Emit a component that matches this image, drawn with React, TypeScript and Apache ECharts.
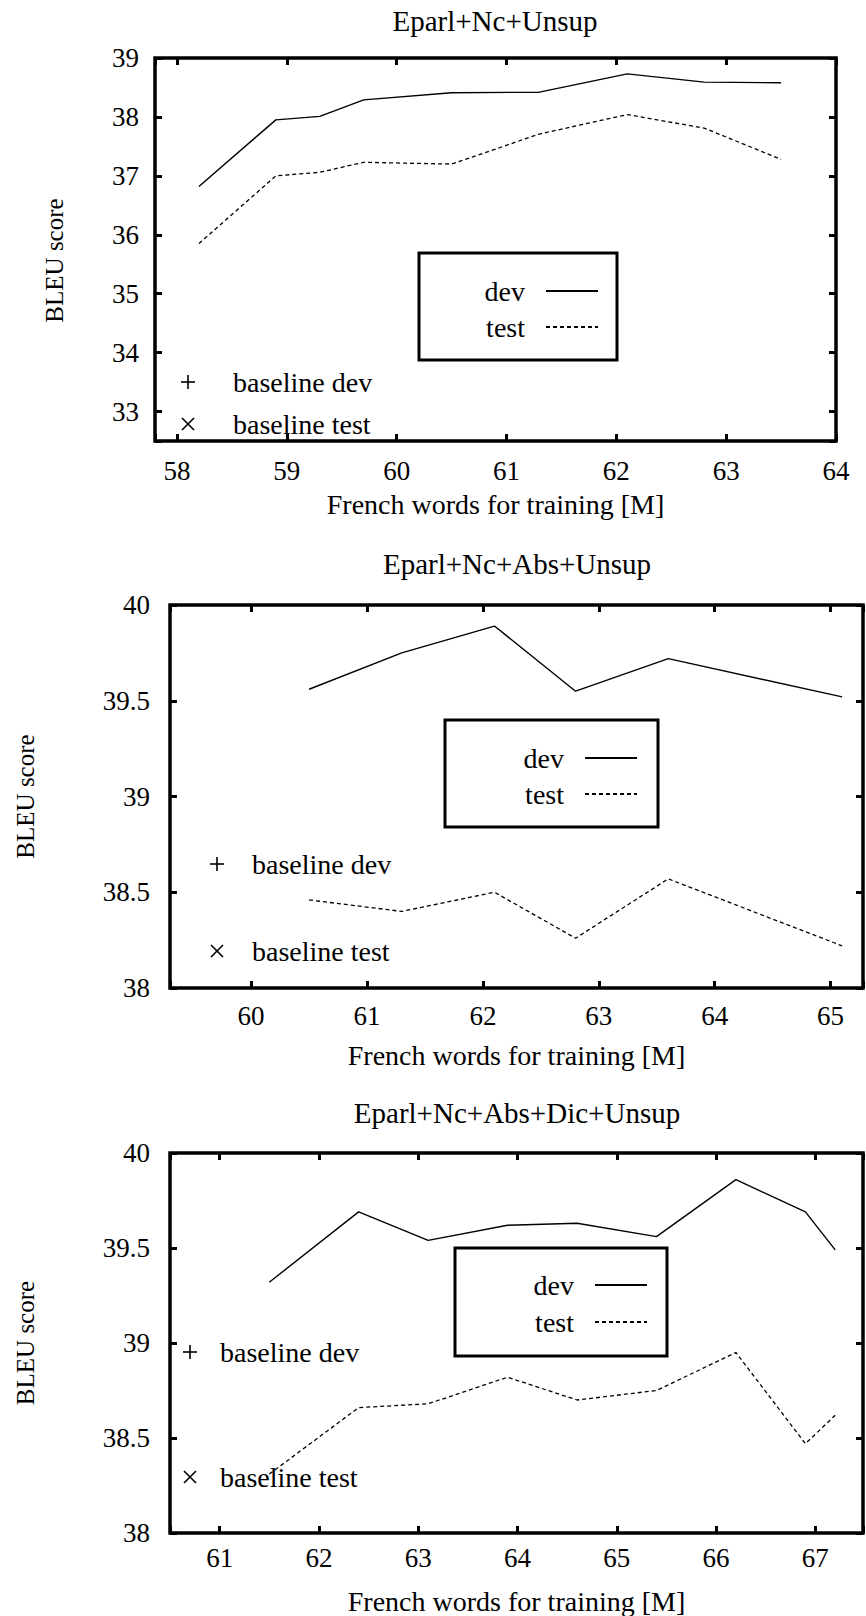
import React, { useEffect, useRef } from "react";
import * as echarts from "echarts";

// ---------- data ----------
const TITLES = ["Eparl+Nc+Unsup", "Eparl+Nc+Abs+Unsup", "Eparl+Nc+Abs+Dic+Unsup"];
const X_NAME = "French words for training [M]";
const Y_NAME = "BLEU score";
const SERIES_NAMES = ["dev", "test"];
const BASELINE_NAMES = ["baseline dev", "baseline test"];

const X1 = [58.2, 58.9, 59.3, 59.7, 60.5, 61.3, 62.1, 62.8, 63.5];
const DEV1 = [36.82, 37.95, 38.01, 38.29, 38.41, 38.42, 38.73, 38.59, 38.58];
const TEST1 = [35.85, 37.0, 37.06, 37.23, 37.2, 37.71, 38.04, 37.81, 37.28];

const X2 = [60.5, 61.3, 62.1, 62.8, 63.6, 65.1];
const DEV2 = [39.56, 39.75, 39.89, 39.55, 39.72, 39.52];
const TEST2 = [38.46, 38.4, 38.5, 38.26, 38.57, 38.22];

const X3 = [61.5, 62.4, 63.1, 63.9, 64.6, 65.4, 66.2, 66.9, 67.2];
const DEV3 = [39.32, 39.69, 39.54, 39.62, 39.63, 39.56, 39.86, 39.69, 39.49];
const TEST3 = [38.31, 38.66, 38.68, 38.82, 38.7, 38.75, 38.95, 38.47, 38.62];

// axis ranges
const X_RANGES = [[57.8, 64], [59.3, 65.28], [60.5, 67.48]];
const Y_RANGES = [[32.5, 39], [38, 40], [38, 40]];
const X_SPLITS = [6, 6, 7];
const Y_SPLITS = [7, 4, 4];
const Y_STEPS = [1, 0.5, 0.5];

// ---------- layout ----------
const FONT = "'Liberation Serif', 'Times New Roman', serif";
const GRIDS = [
  { left: 155, top: 58, width: 681, height: 383 },
  { left: 170, top: 605, width: 693, height: 383 },
  { left: 170, top: 1153, width: 694, height: 384 },
];
const TITLE_POS = [[495, 21], [517, 564], [517, 1113]];
const X_LABEL_MARGIN = [16, 14, 11];
const Y_LABEL_MARGIN = [16, 20, 20];
const X_NAME_GAP = [49, 53, 54];
const Y_NAME_GAP = [88, 132, 132];
const Y_NAME_PAD = [[0, 22, 0, 0], [0, 0, 0, 0], [0, 0, 0, 0]];
const KEY_BOX = [
  [419, 253, 198, 107],
  [445, 720, 213, 107],
  [455, 1248, 212, 108],
];
const KEY_LEGEND = [
  { right: 267, top: 277, gap: 8 },
  { right: 228, top: 744, gap: 8 },
  { right: 218, top: 1271, gap: 9 },
];
const BASE_KEYS = [
  { sx: 188, tx: 233, y: [382, 424] },
  { sx: 217, tx: 252, y: [864, 951] },
  { sx: 190, tx: 220, y: [1352, 1477] },
];

const DATA_X = [X1, X2, X3];
const DATA_DEV = [DEV1, DEV2, DEV3];
const DATA_TEST = [TEST1, TEST2, TEST3];

function stepFormatter(step: number) {
  return (v: number) => {
    const r = v / step;
    return Math.abs(r - Math.round(r)) < 1e-6 ? String(+v.toFixed(2)) : "";
  };
}

function buildOption() {
  const grid: any[] = [];
  const xAxis: any[] = [];
  const yAxis: any[] = [];
  const series: any[] = [];
  const legend: any[] = [];
  const graphic: any[] = [];

  const tick = { show: true, inside: true, length: 7, lineStyle: { color: "#000", width: 3 } };

  for (let i = 0; i < 3; i++) {
    grid.push({
      ...GRIDS[i],
      show: true,
      borderColor: "#000",
      borderWidth: 3.5,
      backgroundColor: "transparent",
      containLabel: false,
    });
    const [xmin, xmax] = X_RANGES[i];
    const [ymin, ymax] = Y_RANGES[i];
    xAxis.push({
      type: "value",
      gridIndex: i,
      position: "bottom",
      min: xmin,
      max: xmax,
      splitNumber: X_SPLITS[i],
      axisLine: { show: false },
      axisTick: tick,
      splitLine: { show: false },
      axisLabel: {
        color: "#000",
        fontSize: 27,
        fontFamily: FONT,
        margin: X_LABEL_MARGIN[i],
        formatter: stepFormatter(1),
      },
      name: X_NAME,
      nameLocation: "middle",
      nameGap: X_NAME_GAP[i],
      nameTextStyle: { color: "#000", fontSize: 28, fontFamily: FONT, verticalAlign: "top" },
    });
    xAxis.push({
      type: "value",
      gridIndex: i,
      position: "top",
      min: xmin,
      max: xmax,
      splitNumber: X_SPLITS[i],
      axisLine: { show: false },
      axisTick: tick,
      splitLine: { show: false },
      axisLabel: { show: false },
    });
    yAxis.push({
      type: "value",
      gridIndex: i,
      position: "left",
      min: ymin,
      max: ymax,
      splitNumber: Y_SPLITS[i],
      axisLine: { show: false },
      axisTick: tick,
      splitLine: { show: false },
      axisLabel: {
        color: "#000",
        fontSize: 27,
        fontFamily: FONT,
        margin: Y_LABEL_MARGIN[i],
        formatter: stepFormatter(Y_STEPS[i]),
      },
      name: Y_NAME,
      nameLocation: "middle",
      nameGap: Y_NAME_GAP[i],
      nameRotate: 90,
      nameTextStyle: { color: "#000", fontSize: 25, fontFamily: FONT, padding: Y_NAME_PAD[i] },
    });
    yAxis.push({
      type: "value",
      gridIndex: i,
      position: "right",
      min: ymin,
      max: ymax,
      splitNumber: Y_SPLITS[i],
      axisLine: { show: false },
      axisTick: tick,
      splitLine: { show: false },
      axisLabel: { show: false },
    });

    const xs = DATA_X[i];
    series.push({
      type: "line",
      name: SERIES_NAMES[0],
      xAxisIndex: i * 2,
      yAxisIndex: i * 2,
      data: xs.map((x, k) => [x, DATA_DEV[i][k]]),
      symbol: "none",
      lineStyle: { color: "#000", width: 1.4, type: "solid" },
      itemStyle: { color: "#000" },
    });
    series.push({
      type: "line",
      name: SERIES_NAMES[1],
      xAxisIndex: i * 2,
      yAxisIndex: i * 2,
      data: xs.map((x, k) => [x, DATA_TEST[i][k]]),
      symbol: "none",
      lineStyle: { color: "#000", width: 1.3, type: [4, 3] },
      itemStyle: { color: "#000" },
    });

    legend.push({
      data: SERIES_NAMES,
      orient: "vertical",
      align: "right",
      right: KEY_LEGEND[i].right,
      top: KEY_LEGEND[i].top,
      padding: 0,
      itemGap: KEY_LEGEND[i].gap,
      itemWidth: 52,
      itemHeight: 26,
      selectedMode: false,
      itemStyle: { color: "rgba(0,0,0,0)", borderWidth: 0, opacity: 0 },
      textStyle: {
        color: "#000",
        fontSize: 28,
        fontFamily: FONT,
        lineHeight: 26,
        padding: [0, 16, 0, 0],
      },
    });

    // titles
    graphic.push({
      type: "text",
      x: TITLE_POS[i][0],
      y: TITLE_POS[i][1],
      style: {
        text: TITLES[i],
        fill: "#000",
        fontSize: 29,
        fontFamily: FONT,
        align: "center",
        verticalAlign: "middle",
      },
    });
    // key box
    const [bx, by, bw, bh] = KEY_BOX[i];
    graphic.push({
      type: "rect",
      shape: { x: bx, y: by, width: bw, height: bh },
      style: { fill: "rgba(0,0,0,0)", stroke: "#000", lineWidth: 3 },
    });
    // baseline keys
    const bk = BASE_KEYS[i];
    const h = 7;
    const [yp, yx] = bk.y;
    graphic.push({
      type: "line",
      shape: { x1: bk.sx - h, y1: yp, x2: bk.sx + h, y2: yp },
      style: { stroke: "#000", lineWidth: 1.6 },
    });
    graphic.push({
      type: "line",
      shape: { x1: bk.sx, y1: yp - h, x2: bk.sx, y2: yp + h },
      style: { stroke: "#000", lineWidth: 1.6 },
    });
    const c = 6;
    graphic.push({
      type: "line",
      shape: { x1: bk.sx - c, y1: yx - c, x2: bk.sx + c, y2: yx + c },
      style: { stroke: "#000", lineWidth: 1.6 },
    });
    graphic.push({
      type: "line",
      shape: { x1: bk.sx - c, y1: yx + c, x2: bk.sx + c, y2: yx - c },
      style: { stroke: "#000", lineWidth: 1.6 },
    });
    BASELINE_NAMES.forEach((t, k) => {
      graphic.push({
        type: "text",
        x: bk.tx,
        y: bk.y[k],
        style: {
          text: t,
          fill: "#000",
          fontSize: 28,
          fontFamily: FONT,
          align: "left",
          verticalAlign: "middle",
        },
      });
    });
  }

  return {
    animation: false,
    backgroundColor: "#fff",
    textStyle: { fontFamily: FONT },
    grid,
    xAxis,
    yAxis,
    series,
    legend,
    graphic,
  };
}

export default function App() {
  const ref = useRef<HTMLDivElement>(null);
  useEffect(() => {
    if (!ref.current) return;
    const chart = echarts.init(ref.current, null, { renderer: "svg" });
    chart.setOption(buildOption() as any);
    return () => chart.dispose();
  }, []);
  return (
    <div
      ref={ref}
      style={{ position: "absolute", left: 0, top: 0, width: 866, height: 1616, background: "#fff" }}
    />
  );
}
